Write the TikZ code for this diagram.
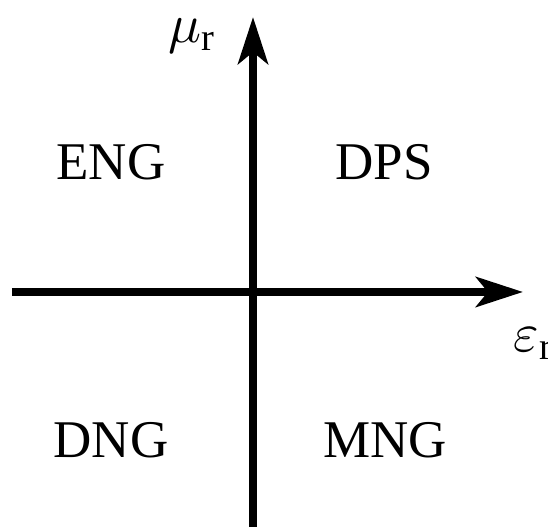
\documentclass[tikz,border=0pt]{standalone}
\usepackage{amsmath}
\usepackage{fontspec}
\setmainfont{Liberation Serif}
\usetikzlibrary{arrows.meta}

\begin{document}
\begin{tikzpicture}[
    x=0.2pt, y=-0.2pt,
    axis/.style  = {line width=1.6pt, -{Stealth[length=9.4pt, width=6pt, inset=2.4pt]}},
    region/.style = {font=\fontsize{10.6}{12}\selectfont, inner sep=0pt},
    axlabel/.style = {font=\fontsize{11}{13}\selectfont, inner sep=0pt}
]
\useasboundingbox (0,0) rectangle (548,527);

%% Axis ends
\coordinate (xl) at (12,292);
\coordinate (xr) at (523,292);
\coordinate (yb) at (253,540);
\coordinate (yt) at (253,17);

%% Axes
\draw[axis] (xl) -- (xr);
\draw[axis] (yb) -- (yt);

%% Axis labels
\node[axlabel] (mu)  at (193,36)  {$\mu_\mathrm{r}$};
\node[axlabel] (eps) at (534,344) {$\varepsilon_\mathrm{r}$};

%% Quadrants
\node[region] (eng) at (111,162) {ENG};
\node[region] (dps) at (384,162) {DPS};
\node[region] (dng) at (111,440) {DNG};
\node[region] (mng) at (385,440) {MNG};

\end{tikzpicture}
\end{document}
